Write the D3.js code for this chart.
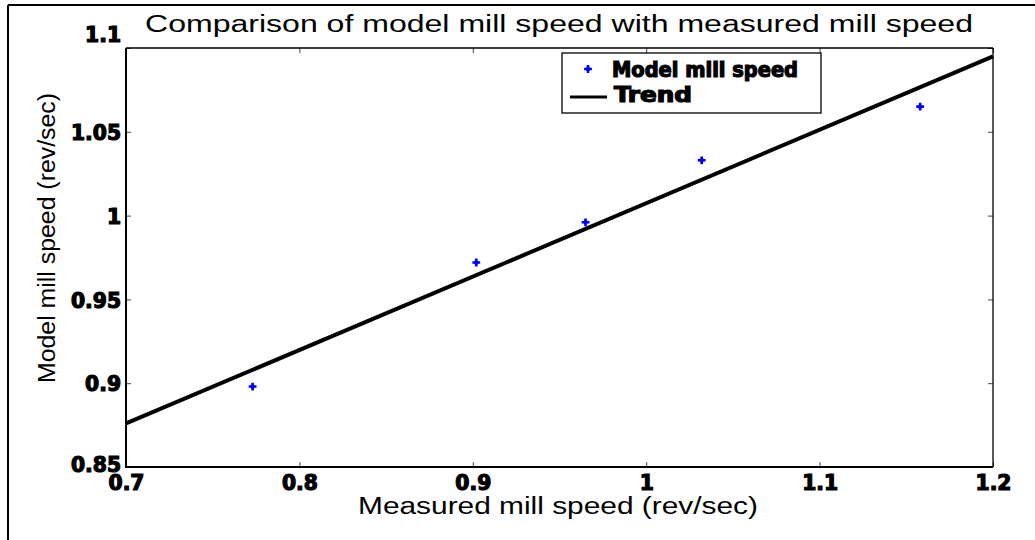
<!DOCTYPE html>
<html>
<head>
<meta charset="utf-8">
<script src="https://cdn.jsdelivr.net/npm/d3@7"></script>
<style>
  html, body { margin: 0; padding: 0; background: #fff; }
  svg { display: block; }
  .tick text, .legtext {
    font-family: "DejaVu Sans Condensed", "DejaVu Sans", sans-serif;
    font-stretch: condensed;
    font-weight: bold;
    fill: #000;
    stroke: #000;
    stroke-width: 1.1px;
    paint-order: stroke;
  }
  .plain { font-family: "Liberation Sans", Arial, sans-serif; fill: #000; }
</style>
</head>
<body>
<script>
// ---- data ----
const measured = [0.773, 0.902, 0.965, 1.032, 1.158];
const model    = [0.898, 0.972, 0.996, 1.033, 1.065];
const trendX   = [0.7, 1.2];
const trendY   = [0.876, 1.095];
const xTicks   = [0.7, 0.8, 0.9, 1.0, 1.1, 1.2];
const xTickLabels = ["0.7", "0.8", "0.9", "1", "1.1", "1.2"];
const yTicks   = [0.85, 0.9, 0.95, 1.0, 1.05, 1.1];
const yTickLabels = ["0.85", "0.9", "0.95", "1", "1.05", "1.1"];
const seriesNames = ["Model mill speed", "Trend"];
const titleText = "Comparison of model mill speed with measured mill speed";
const xLabel = "Measured mill speed (rev/sec)";
const yLabel = "Model mill speed (rev/sec)";

const W = 1035, H = 540;
const M = { left: 126, right: 993, top: 48, bottom: 467 };

const svg = d3.select("body").append("svg").attr("width", W).attr("height", H);

// outer frame (top and left visible)
svg.append("line").attr("x1", 8).attr("x2", W).attr("y1", 5).attr("y2", 5)
  .attr("stroke", "#000").attr("stroke-width", 2);
svg.append("line").attr("x1", 8).attr("x2", 8).attr("y1", 5).attr("y2", H)
  .attr("stroke", "#000").attr("stroke-width", 2);

const x = d3.scaleLinear().domain([0.7, 1.2]).range([M.left, M.right]);
const y = d3.scaleLinear().domain([0.85, 1.1]).range([M.bottom, M.top]);

// axes
const fs = 20.5;
const gx = svg.append("g").attr("transform", `translate(0,${M.bottom})`)
  .call(d3.axisBottom(x).tickValues(xTicks).tickSize(-5).tickPadding(8)
    .tickFormat((d, i) => xTickLabels[i]));
const gy = svg.append("g").attr("transform", `translate(${M.left},0)`)
  .call(d3.axisLeft(y).tickValues(yTicks).tickSize(-5).tickPadding(5)
    .tickFormat((d, i) => yTickLabels[i]));
const gt = svg.append("g").attr("transform", `translate(0,${M.top})`)
  .call(d3.axisTop(x).tickValues(xTicks).tickSize(-5).tickFormat(""));
const gr = svg.append("g").attr("transform", `translate(${M.right},0)`)
  .call(d3.axisRight(y).tickValues(yTicks).tickSize(-5).tickFormat(""));

[gx, gy, gt, gr].forEach(g => {
  g.select(".domain").remove();
  g.selectAll(".tick line").attr("stroke", "#444").attr("stroke-width", 1);
  g.selectAll(".tick text").style("font-size", fs + "px");
});
gy.selectAll(".tick text").attr("dy", "0.38em");
gy.selectAll(".tick text").filter(d => d === 1.1).attr("dy", "-0.3em");
gy.selectAll(".tick text").filter(d => d === 0.85).attr("dy", "0.2em");
// slightly widen the heavy labels like the reference
[gx, gy].forEach(g => g.selectAll(".tick text").each(function () {
  const len = this.getComputedTextLength();
  d3.select(this).attr("textLength", len * 1.1).attr("lengthAdjust", "spacingAndGlyphs");
}));

// axes box
svg.append("line").attr("x1", M.left).attr("x2", M.left).attr("y1", M.top).attr("y2", M.bottom + 1)
  .attr("stroke", "#000").attr("stroke-width", 2);
svg.append("line").attr("x1", M.left - 1).attr("x2", M.right).attr("y1", M.bottom).attr("y2", M.bottom)
  .attr("stroke", "#000").attr("stroke-width", 2);
svg.append("line").attr("x1", M.left).attr("x2", M.right).attr("y1", M.top).attr("y2", M.top)
  .attr("stroke", "#000").attr("stroke-width", 1.3);
svg.append("line").attr("x1", M.right).attr("x2", M.right).attr("y1", M.top).attr("y2", M.bottom)
  .attr("stroke", "#000").attr("stroke-width", 1.3);

// trend line
const trend = trendX.map((v, i) => [v, trendY[i]]);
svg.append("path").datum(trend)
  .attr("d", d3.line().x(d => x(d[0])).y(d => y(d[1])))
  .attr("fill", "none").attr("stroke", "#000").attr("stroke-width", 4);

// points (blue star-like blobs)
const sym = d3.symbol(d3.symbolCross).size(34);
function marker(g) {
  g.append("path").attr("d", sym).attr("fill", "#0000ff");
  g.append("circle").attr("r", 2.2).attr("fill", "#0000ff");
}
svg.append("g").selectAll("g").data(measured.map((v, i) => [v, model[i]]))
  .join("g")
  .attr("transform", d => `translate(${x(d[0])},${y(d[1])})`)
  .each(function () { marker(d3.select(this)); });

// legend
const leg = svg.append("g");
leg.append("rect").attr("x", 562).attr("y", 53).attr("width", 259).attr("height", 60)
  .attr("fill", "#fff").attr("stroke", "#000").attr("stroke-width", 1.3);
marker(leg.append("g").attr("transform", "translate(588,69)"));
leg.append("line").attr("x1", 570).attr("x2", 607).attr("y1", 97).attr("y2", 97)
  .attr("stroke", "#000").attr("stroke-width", 3);
leg.append("text").attr("class", "legtext").attr("x", 612).attr("y", 77)
  .style("font-size", fs + "px")
  .attr("textLength", 186).attr("lengthAdjust", "spacingAndGlyphs").text(seriesNames[0]);
leg.append("text").attr("class", "legtext").attr("x", 614).attr("y", 102)
  .style("font-size", fs + "px")
  .attr("textLength", 78).attr("lengthAdjust", "spacingAndGlyphs").text(seriesNames[1]);

// title and labels
svg.append("text").attr("class", "plain").attr("x", 559).attr("y", 32)
  .attr("text-anchor", "middle").style("font-size", "23px")
  .attr("textLength", 828).attr("lengthAdjust", "spacingAndGlyphs").text(titleText);
svg.append("text").attr("class", "plain").attr("x", 558).attr("y", 514)
  .attr("text-anchor", "middle").style("font-size", "23px")
  .attr("textLength", 400).attr("lengthAdjust", "spacingAndGlyphs").text(xLabel);
svg.append("text").attr("class", "plain")
  .attr("transform", "translate(55,238) rotate(-90)")
  .attr("text-anchor", "middle").style("font-size", "23px")
  .attr("textLength", 290).attr("lengthAdjust", "spacingAndGlyphs").text(yLabel);
</script>
</body>
</html>
